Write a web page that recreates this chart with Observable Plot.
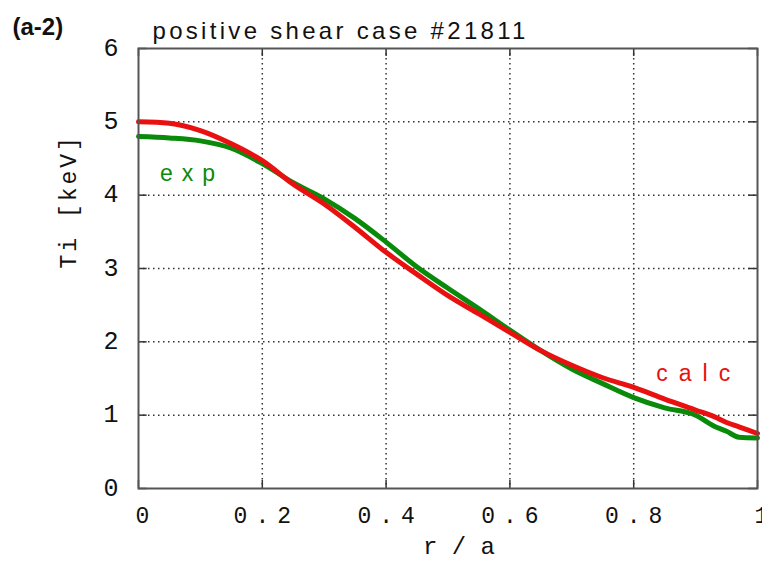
<!DOCTYPE html>
<html><head><meta charset="utf-8">
<script src="https://cdn.jsdelivr.net/npm/d3@7"></script>
<script src="https://cdn.jsdelivr.net/npm/@observablehq/plot@0.6"></script>
<style>body{margin:0;background:#fff}</style>
</head><body><div id="chart"></div>
<script>
const r    = [0,0.05,0.1,0.15,0.2,0.25,0.3,0.35,0.4,0.45,0.5,0.55,0.6,0.65,0.7,0.75,0.8,0.85,0.9,0.93,0.95,0.97,1.0];
const calc = [5.0,4.98,4.88,4.70,4.47,4.15,3.88,3.56,3.22,2.92,2.63,2.38,2.13,1.88,1.68,1.51,1.38,1.22,1.07,0.98,0.90,0.84,0.75];
const exp  = [4.8,4.78,4.74,4.64,4.43,4.17,3.95,3.68,3.36,3.02,2.73,2.45,2.16,1.88,1.63,1.43,1.24,1.10,1.00,0.85,0.78,0.70,0.69];
const xTicks = [0,0.2,0.4,0.6,0.8,1];
const yTicks = [0,1,2,3,4,5,6];
const xTickLabels = ["0","0.2","0.4","0.6","0.8","1"];

const calcData = r.map((v,i)=>({r:v, t:calc[i]}));
const expData  = r.map((v,i)=>({r:v, t:exp[i]}));
const mono = "'Liberation Mono', monospace";
const sans = "'Liberation Sans', Arial, sans-serif";

const chart = Plot.plot({
  width: 762, height: 567,
  marginLeft: 138, marginRight: 5, marginTop: 48, marginBottom: 79,
  style: {fontFamily: sans, background: "#fff"},
  x: {domain: [0,1], axis: null},
  y: {domain: [0,6], axis: null},
  marks: [
    Plot.ruleX(xTicks.slice(1,-1), {stroke: "#333", strokeWidth: 1.5, strokeDasharray: "1.5,3.5"}),
    Plot.ruleY(yTicks.slice(1,-1), {stroke: "#333", strokeWidth: 1.5, strokeDasharray: "1.5,3.5"}),
    Plot.ruleX(xTicks, {x: d=>d, y1: 0, y2: 0.11, stroke: "#333", strokeWidth: 1.5}),
    Plot.ruleX(xTicks, {x: d=>d, y1: 5.89, y2: 6, stroke: "#333", strokeWidth: 1.5}),
    Plot.ruleY(yTicks, {y: d=>d, x1: 0, x2: 0.014, stroke: "#333", strokeWidth: 1.5}),
    Plot.ruleY(yTicks, {y: d=>d, x1: 0.986, x2: 1, stroke: "#333", strokeWidth: 1.5}),
    Plot.line(expData, {x: "r", y: "t", stroke: "#0a8a0a", strokeWidth: 5, curve: "monotone-x"}),
    Plot.line(calcData, {x: "r", y: "t", stroke: "#e81010", strokeWidth: 5, curve: "monotone-x"}),
    Plot.frame({stroke: "#555", strokeWidth: 2}),
    Plot.axisX(xTicks, {label: null, tickSize: 0, tickPadding: 18, tickFormat: (d,i)=>xTickLabels[i], fontSize: 23, fontFamily: mono, fill: "#111", dx: 4}),
    Plot.axisY(yTicks, {label: null, tickSize: 0, tickPadding: 20, tickFormat: d=>String(d), fontSize: 25, fontFamily: mono, fill: "#111", dy: -1}),
    Plot.text(["Ti [keV]"], {frameAnchor: "left", dx: -70, rotate: -90, fontSize: 23, fontFamily: mono, fill: "#111"}),
    Plot.text(["r / a"], {frameAnchor: "bottom", dx: 11, dy: 65, fontSize: 24, fontFamily: mono, fill: "#111"}),
    Plot.text(["positive shear case #21811"], {frameAnchor: "top-left", dx: 14, dy: -27, textAnchor: "start", fontSize: 24, fontFamily: sans, fill: "#111"}),
    Plot.text(["(a-2)"], {frameAnchor: "top-left", dx: -126, dy: -31, textAnchor: "start", fontSize: 24, fontWeight: "bold", fontFamily: sans, fill: "#111"}),
    Plot.text(["exp"], {x: 0.08, y: 4.3, fontSize: 23, fill: "#0a8a0a", fontFamily: sans, dx: 4}),
    Plot.text(["calc"], {x: 0.897, y: 1.57, fontSize: 23, fill: "#e81010", fontFamily: sans, dx: 5})
  ]
});
const svg = d3.select(chart);
const spacing = {"positive shear case #21811": 3.3, "exp": 9, "calc": 11, "Ti [keV]": 3};
xTickLabels.forEach(t => { if (t.length > 1) spacing[t] = 8; });
svg.selectAll("text").each(function() {
  const s = spacing[this.textContent];
  if (s !== undefined) this.style.letterSpacing = s + "px";
});
document.getElementById("chart").append(chart);
</script>
</body></html>
